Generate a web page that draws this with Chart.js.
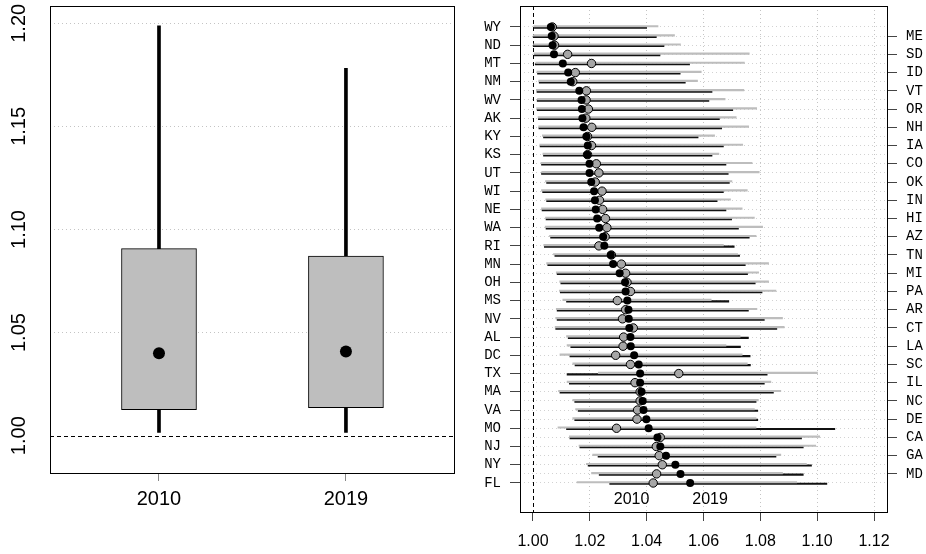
<!DOCTYPE html>
<html>
<head>
<meta charset="utf-8">
<script src="https://cdn.jsdelivr.net/npm/chart.js@4.4.0/dist/chart.umd.min.js"></script>
<style>
  html, body { margin: 0; padding: 0; background: #fff; }
  #wrap { position: relative; width: 926px; height: 554px; }
  .panel { position: absolute; top: 0; width: 463px; height: 554px; }
  #left { left: 0; }
  #right { left: 463px; }
</style>
</head>
<body>
<div id="wrap">
  <div class="panel" id="left"><canvas id="boxChart"></canvas></div>
  <div class="panel" id="right"><canvas id="dotChart"></canvas></div>
</div>
<script>
// --- left panel: distribution across states ---
const years = ['2010', '2019'];
const whiskerLow = [1.0016, 1.0016];
const whiskerHigh = [1.1988, 1.1782];
const boxLow = [1.0126, 1.0136];
const boxHigh = [1.0907, 1.0871];
const medians = [1.0400, 1.0408];
const boxTicks = [1.00, 1.05, 1.10, 1.15, 1.20];

// --- right panel: states, sorted by the 2019 estimate ---
const states = ['WY','ME','ND','SD','MT','ID','NM','VT','WV','OR','AK','NH','KY','IA','KS','CO','UT','OK',
  'WI','IN','NE','HI','WA','AZ','RI','TN','MN','MI','OH','PA','MS','AR','NV','CT','AL','LA','DC','SC',
  'TX','IL','MA','NC','VA','DE','MO','CA','NJ','GA','NY','MD','FL'];
const val2010 = [1.0068,1.0074,1.0076,1.0122,1.0206,1.0149,1.0140,1.0188,1.0187,1.0195,1.0186,1.0207,1.0192,
  1.0206,1.0192,1.0223,1.0232,1.0219,1.0243,1.0234,1.0245,1.0255,1.0260,1.0254,1.0232,1.0276,1.0311,1.0326,
  1.0331,1.0343,1.0297,1.0326,1.0315,1.0353,1.0319,1.0317,1.0291,1.0343,1.0513,1.0359,1.0377,1.0377,1.0368,
  1.0366,1.0294,1.0448,1.0434,1.0444,1.0455,1.0435,1.0423];
const val2019 = [1.0063,1.0066,1.0069,1.0074,1.0105,1.0124,1.0133,1.0163,1.0171,1.0172,1.0174,1.0178,1.0188,
  1.0193,1.0191,1.0199,1.0199,1.0205,1.0215,1.0218,1.0221,1.0226,1.0233,1.0247,1.0251,1.0274,1.0282,1.0305,
  1.0324,1.0326,1.0332,1.0336,1.0337,1.0339,1.0343,1.0344,1.0356,1.0372,1.0377,1.0377,1.0382,1.0386,1.0389,
  1.0399,1.0407,1.0438,1.0448,1.0468,1.0501,1.0519,1.0553];
const lo2010 = [1.0003,1.0001,1.0002,1.0004,1.0010,1.0014,1.0020,1.0012,1.0016,1.0013,1.0018,1.0020,1.0033,
  1.0024,1.0035,1.0028,1.0031,1.0044,1.0030,1.0045,1.0030,1.0044,1.0043,1.0058,1.0038,1.0072,1.0048,1.0082,
  1.0094,1.0093,1.0105,1.0082,1.0080,1.0078,1.0118,1.0120,1.0095,1.0140,1.0230,1.0120,1.0090,1.0140,1.0150,
  1.0140,1.0088,1.0128,1.0162,1.0210,1.0188,1.0206,1.0155];
const hi2010 = [1.0440,1.0498,1.0519,1.0761,1.0744,1.0592,1.0579,1.0742,1.0676,1.0787,1.0715,1.0759,1.0639,
  1.0738,1.0654,1.0771,1.0796,1.0700,1.0754,1.0695,1.0736,1.0779,1.0808,1.0785,1.0670,1.0720,1.0829,1.0794,
  1.0829,1.0855,1.0627,1.0788,1.0878,1.0884,1.0729,1.0679,1.0736,1.0754,1.1001,1.0837,1.0872,1.0793,1.0779,
  1.0785,1.0785,1.1009,1.0995,1.0872,1.0962,1.0878,1.0928];
const lo2019 = [1.0005,1.0001,1.0001,1.0005,1.0008,1.0016,1.0022,1.0014,1.0015,1.0015,1.0019,1.0021,1.0037,
  1.0025,1.0037,1.0030,1.0030,1.0048,1.0034,1.0048,1.0032,1.0046,1.0046,1.0062,1.0040,1.0077,1.0052,1.0085,
  1.0098,1.0096,1.0118,1.0085,1.0085,1.0080,1.0124,1.0133,1.0130,1.0148,1.0120,1.0128,1.0095,1.0147,1.0159,
  1.0147,1.0118,1.0130,1.0165,1.0229,1.0194,1.0233,1.0270];
const hi2019 = [1.0400,1.0434,1.0461,1.0447,1.0551,1.0518,1.0536,1.0630,1.0619,1.0703,1.0656,1.0664,1.0581,
  1.0670,1.0630,1.0679,1.0687,1.0691,1.0670,1.0648,1.0679,1.0699,1.0723,1.0761,1.0708,1.0727,1.0747,1.0755,
  1.0782,1.0806,1.0689,1.0758,1.0814,1.0858,1.0758,1.0730,1.0764,1.0765,1.0824,1.0814,1.0846,1.0785,1.0791,
  1.0791,1.1062,1.0945,1.0951,1.0855,1.0980,1.0951,1.1034];
const dotTicks = [1.00, 1.02, 1.04, 1.06, 1.08, 1.10, 1.12];
// where the two year captions sit inside the right panel
const captionX = [1.0347, 1.0623];
const captionRow = 52.8;

Chart.defaults.font.family = "'Liberation Sans', Arial, sans-serif";
Chart.defaults.color = '#000';

const framePlugin = {
  id: 'frame',
  afterDraw(chart) {
    const { ctx, chartArea: a } = chart;
    ctx.save();
    ctx.strokeStyle = '#000';
    ctx.lineWidth = 1;
    ctx.strokeRect(Math.round(a.left) + 0.5, Math.round(a.top) + 0.5, Math.round(a.width), Math.round(a.height));
    ctx.restore();
  }
};

// dashed reference line at 1.00
const refLinePlugin = {
  id: 'refLine',
  beforeDatasetsDraw(chart, args, opts) {
    const { ctx, chartArea: a } = chart;
    const scale = chart.scales[opts.axis];
    const p = Math.round(scale.getPixelForValue(opts.value)) + 0.5;
    ctx.save();
    ctx.strokeStyle = '#000';
    ctx.lineWidth = 1;
    ctx.setLineDash([4, 3]);
    ctx.beginPath();
    if (scale.isHorizontal()) {
      ctx.moveTo(p, a.top);
      ctx.lineTo(p, a.bottom);
    } else {
      ctx.moveTo(a.left, p);
      ctx.lineTo(a.right, p);
    }
    ctx.stroke();
    ctx.restore();
  }
};

const captionPlugin = {
  id: 'captions',
  afterDatasetsDraw(chart, args, opts) {
    if (!opts.labels) return;
    const { ctx, scales } = chart;
    ctx.save();
    ctx.font = "16px 'Liberation Sans', Arial, sans-serif";
    ctx.fillStyle = '#000';
    ctx.textAlign = 'center';
    ctx.textBaseline = 'middle';
    opts.labels.forEach((t, i) => {
      ctx.fillText(t, scales.x.getPixelForValue(opts.x[i]), scales.y.getPixelForValue(opts.row));
    });
    ctx.restore();
  }
};

// fixed axis sizes, no extra room for overhanging labels
const fixW = w => s => { s.width = w; s.paddingTop = 0; s.paddingBottom = 0; };
const fixH = h => s => { s.height = h; s.paddingLeft = 0; s.paddingRight = 0; };

const dottedGrid = 'rgba(190,190,190,0.9)';

// ---------- left chart ----------
new Chart(document.getElementById('boxChart'), {
  type: 'bar',
  data: {
    datasets: [
      {
        label: 'range',
        data: years.map((y, i) => ({ x: i + 1, y: [whiskerLow[i], whiskerHigh[i]] })),
        backgroundColor: '#000',
        barThickness: 3,
        grouped: false,
        order: 3
      },
      {
        label: 'box',
        data: years.map((y, i) => ({ x: i + 1, y: [boxLow[i], boxHigh[i]] })),
        backgroundColor: '#bebebe',
        borderColor: '#000',
        borderWidth: 1,
        borderSkipped: false,
        barThickness: 75,
        grouped: false,
        order: 2
      },
      {
        type: 'scatter',
        label: 'median',
        data: years.map((y, i) => ({ x: i + 1, y: medians[i] })),
        pointRadius: 6,
        pointBackgroundColor: '#000',
        pointBorderWidth: 0,
        order: 1
      }
    ]
  },
  options: {
    responsive: true,
    maintainAspectRatio: false,
    animation: false,
    layout: { padding: { top: 6, right: 9, left: 0, bottom: 0 } },
    plugins: {
      legend: { display: false },
      tooltip: { enabled: false },
      refLine: { axis: 'y', value: 1.0 }
    },
    scales: {
      x: {
        type: 'linear',
        min: 0.417,
        max: 2.578,
        offset: false,
        afterBuildTicks: s => { s.ticks = years.map((y, i) => ({ value: i + 1 })); },
        afterFit: fixH(81),
        ticks: {
          autoSkip: false,
          maxRotation: 0,
          padding: 6,
          font: { size: 20 },
          callback: v => years[v - 1]
        },
        grid: { offset: false, drawOnChartArea: false, tickLength: 8, tickColor: '#888', tickWidth: 1 },
        border: { display: false }
      },
      y: {
        type: 'linear',
        min: 0.9819,
        max: 1.2084,
        afterBuildTicks: s => { s.ticks = boxTicks.map(v => ({ value: v })); },
        afterFit: fixW(50),
        ticks: {
          autoSkip: false,
          minRotation: 90,
          maxRotation: 90,
          crossAlign: 'center',
          padding: 11,
          font: { size: 20 },
          callback: v => v.toFixed(2)
        },
        grid: {
          drawTicks: false,
          color: c => (c.tick && Math.abs(c.tick.value - 1) < 1e-9 ? 'rgba(0,0,0,0)' : dottedGrid),
          lineWidth: 1
        },
        border: { display: false, dash: [1, 3] }
      }
    }
  },
  plugins: [framePlugin, refLinePlugin]
});

// ---------- right chart ----------
const rows = states.map((s, i) => i + 1);

new Chart(document.getElementById('dotChart'), {
  type: 'bar',
  data: {
    datasets: [
      {
        label: '2010 interval',
        data: rows.map((r, i) => ({ y: r, x: [lo2010[i], hi2010[i]] })),
        backgroundColor: '#bdbdbd',
        barThickness: 1.5,
        order: 3
      },
      {
        label: '2019 interval',
        data: rows.map((r, i) => ({ y: r, x: [lo2019[i], hi2019[i]] })),
        backgroundColor: '#111',
        barThickness: 1.5,
        order: 3
      },
      {
        type: 'scatter',
        label: '2010',
        data: rows.map((r, i) => ({ x: val2010[i], y: r })),
        pointRadius: 4.2,
        pointBackgroundColor: '#a6a6a6',
        pointBorderColor: '#000',
        pointBorderWidth: 1,
        order: 2
      },
      {
        type: 'scatter',
        label: '2019',
        data: rows.map((r, i) => ({ x: val2019[i], y: r })),
        pointRadius: 4,
        pointBackgroundColor: '#000',
        pointBorderWidth: 0,
        order: 1
      }
    ]
  },
  options: {
    indexAxis: 'y',
    responsive: true,
    maintainAspectRatio: false,
    animation: false,
    layout: { padding: { top: 6, right: 0, left: 0, bottom: 0 } },
    plugins: {
      legend: { display: false },
      tooltip: { enabled: false },
      refLine: { axis: 'x', value: 1.0 },
      captions: { labels: years, x: captionX, row: captionRow }
    },
    scales: {
      x: {
        type: 'linear',
        position: 'bottom',
        min: 0.99544,
        max: 1.12456,
        offset: false,
        afterBuildTicks: s => { s.ticks = dotTicks.map(v => ({ value: v })); },
        afterFit: fixH(42),
        ticks: {
          autoSkip: false,
          maxRotation: 0,
          padding: 11,
          font: { size: 16 },
          callback: v => v.toFixed(2)
        },
        grid: {
          offset: false,
          color: c => (c.tick && Math.abs(c.tick.value - 1) < 1e-9 ? 'rgba(0,0,0,0)' : dottedGrid),
          tickColor: '#444',
          tickLength: 9,
          lineWidth: 1
        },
        border: { display: false, dash: [1, 3] }
      },
      y: {
        type: 'linear',
        position: 'left',
        reverse: true,
        offset: false,
        min: -1.3,
        max: 54.18,
        afterBuildTicks: s => { s.ticks = rows.map(r => ({ value: r })); },
        afterFit: fixW(57),
        ticks: {
          autoSkip: false,
          padding: 9,
          font: { family: "'Liberation Mono', 'Courier New', monospace", size: 14 },
          callback: v => (v % 2 === 1 ? states[v - 1] : '')
        },
        grid: {
          offset: false,
          color: 'rgba(205,205,205,0.9)',
          tickColor: c => (c.tick && c.tick.value % 2 === 1 ? '#444' : 'rgba(0,0,0,0)'),
          tickLength: 10,
          lineWidth: 1
        },
        border: { display: false, dash: [1, 3] }
      },
      y2: {
        type: 'linear',
        position: 'right',
        reverse: true,
        offset: false,
        min: -1.3,
        max: 54.18,
        afterBuildTicks: s => { s.ticks = rows.map(r => ({ value: r })); },
        afterFit: fixW(39),
        ticks: {
          autoSkip: false,
          padding: 9,
          font: { family: "'Liberation Mono', 'Courier New', monospace", size: 14 },
          callback: v => (v % 2 === 0 ? states[v - 1] : '')
        },
        grid: {
          offset: false,
          drawOnChartArea: false,
          tickColor: c => (c.tick && c.tick.value % 2 === 0 ? '#444' : 'rgba(0,0,0,0)'),
          tickLength: 10,
          lineWidth: 1
        },
        border: { display: false }
      }
    }
  },
  plugins: [framePlugin, refLinePlugin, captionPlugin]
});
</script>
</body>
</html>
